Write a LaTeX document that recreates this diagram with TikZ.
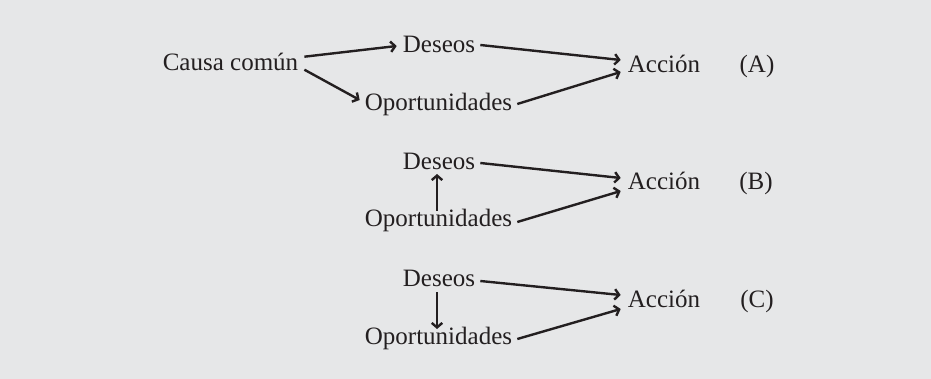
\documentclass[tikz,border=0pt]{standalone}
\usepackage{fontspec}
\setmainfont{Liberation Serif}
\usetikzlibrary{arrows.meta}
\definecolor{bg}{HTML}{E6E7E8}
\definecolor{ink}{HTML}{231F20}
\begin{document}
\begin{tikzpicture}[x=1pt,y=-1pt,
  lbl/.style={inner sep=0pt, anchor=base, text=ink, font=\fontsize{25}{29}\selectfont},
  arr/.style={draw=ink, line width=2.4pt, -{Straight Barb[length=4.5pt,width=10.5pt]}}]
\fill[bg] (0,0) rectangle (931,379);
\useasboundingbox (0,0) rectangle (931,379);
% (A)
\node[lbl] (cc) at (230.5,70.7) {Causa común};
\node[lbl] (dA) at (439,53) {Deseos};
\node[lbl] (oA) at (438.5,111) {Oportunidades};
\node[lbl] (aA) at (664,73) {Acción};
\node[lbl] (tA) at (757,73) {(A)};
% (B)
\node[lbl] (dB) at (439,170) {Deseos};
\node[lbl] (oB) at (438.5,227) {Oportunidades};
\node[lbl] (aB) at (664,190) {Acción};
\node[lbl] (tB) at (756,190) {(B)};
% (C)
\node[lbl] (dC) at (439,286) {Deseos};
\node[lbl] (oC) at (438.5,344) {Oportunidades};
\node[lbl] (aC) at (664,307) {Acción};
\node[lbl] (tC) at (757,307) {(C)};
% arrows A
\draw[arr] ([shift={(6,-14)}]cc.base east) -- ([shift={(-6,-7)}]dA.base west);
\draw[arr] ([shift={(6,-1)}]cc.base east) -- ([shift={(-5,-11)}]oA.base west);
\draw[arr] ([shift={(5,-8)}]dA.base east) -- ([shift={(-7,-13)}]aA.base west);
\draw[arr] ([shift={(5,-7)}]oA.base east) -- ([shift={(-7,-1)}]aA.base west);
% arrows B
\draw[arr] ([shift={(-1.5,-16)}]oB.base) -- ([shift={(-2,4)}]dB.base);
\draw[arr] ([shift={(5,-7)}]dB.base east) -- ([shift={(-7,-12)}]aB.base west);
\draw[arr] ([shift={(5,-5)}]oB.base east) -- ([shift={(-7,1)}]aB.base west);
% arrows C
\draw[arr] ([shift={(-2,6)}]dC.base) -- ([shift={(-1.5,-15)}]oC.base);
\draw[arr] ([shift={(5,-5)}]dC.base east) -- ([shift={(-7,-12)}]aC.base west);
\draw[arr] ([shift={(5,-5)}]oC.base east) -- ([shift={(-7,2)}]aC.base west);
\end{tikzpicture}
\end{document}
